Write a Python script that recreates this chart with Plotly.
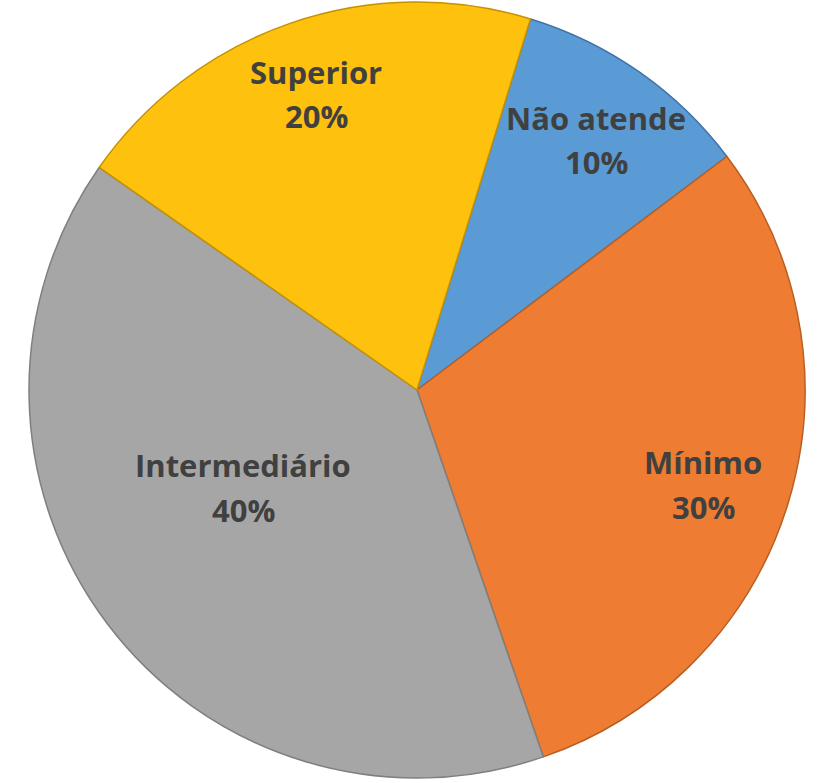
import plotly.graph_objects as go

# Data
categories = ["Não atende", "Mínimo", "Intermediário", "Superior"]
values = [10, 30, 40, 20]

# Style
fill_colors = ["#5B9BD5", "#EE7D33", "#A6A6A6", "#FDC10E"]
line_colors = ["#3F72A8", "#B85E22", "#7F7F7F", "#C49100"]
W, H = 818, 783
# label centres in pixels (name line / percent line)
label_px = {
    "Não atende": (596, 118, 162),
    "Mínimo": (703, 462, 507),
    "Intermediário": (243, 465, 510),
    "Superior": (316, 72, 116),
}

total = sum(values)
fig = go.Figure(go.Pie(
    labels=categories,
    values=values,
    sort=False,
    direction="clockwise",
    rotation=17,
    marker=dict(colors=fill_colors, line=dict(color=line_colors, width=1.5)),
    textinfo="none",
    hoverinfo="label+percent",
    showlegend=False,
    domain=dict(x=[29 / W, 805 / W], y=[1 - 778 / H, 1 - 2 / H]),
))

font = dict(family="'Open Sans', Lato, sans-serif", size=31, color="#404040")
annotations = []
for cat, val in zip(categories, values):
    x, y1, y2 = label_px[cat]
    annotations.append(dict(x=x / W, y=1 - y1 / H, xref="paper", yref="paper",
                            text="<b>%s</b>" % cat, showarrow=False, font=font,
                            xanchor="center", yanchor="middle"))
    annotations.append(dict(x=x / W, y=1 - y2 / H, xref="paper", yref="paper",
                            text="<b>%d%%</b>" % round(100 * val / total), showarrow=False,
                            font=font, xanchor="center", yanchor="middle"))

fig.update_layout(
    width=W, height=H,
    margin=dict(l=0, r=0, t=0, b=0),
    paper_bgcolor="white",
    plot_bgcolor="white",
    annotations=annotations,
)
fig.write_html("out.html")
